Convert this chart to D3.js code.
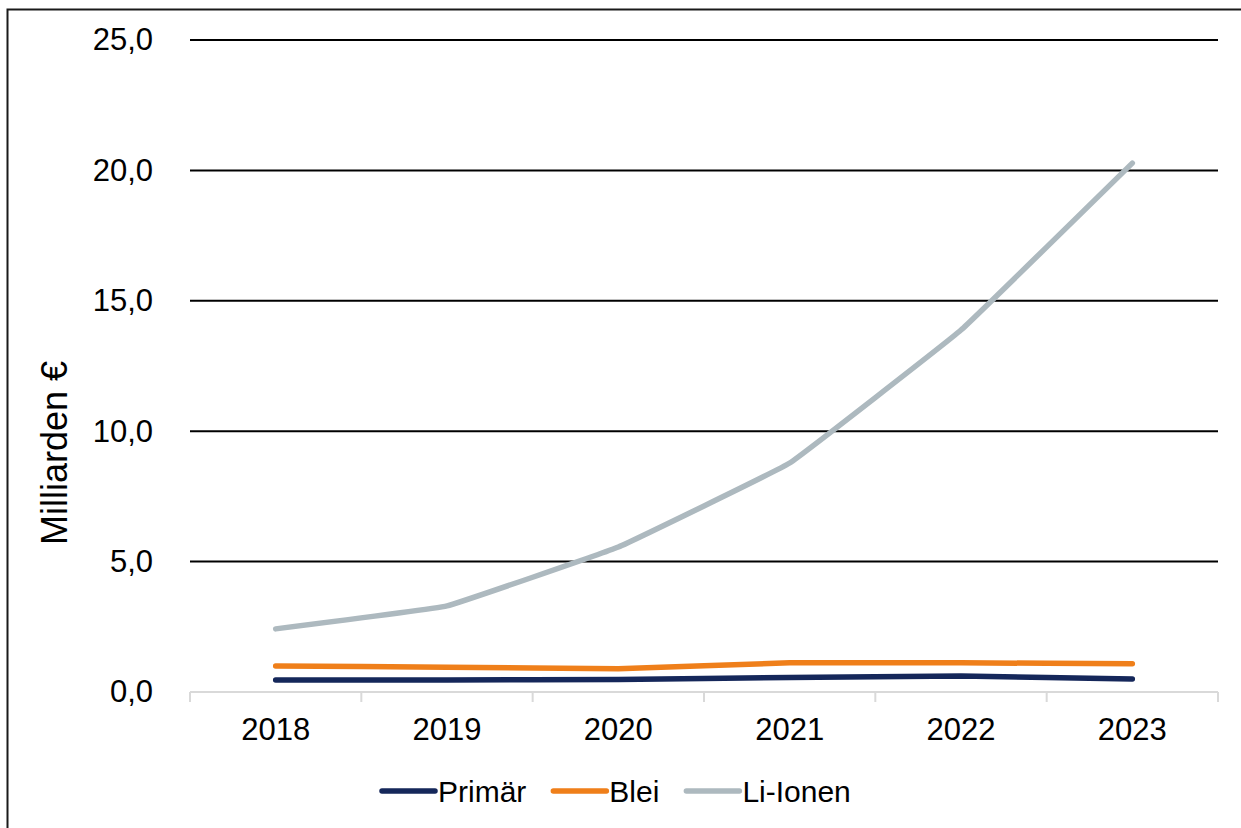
<html>
<head>
<script src="https://d3js.org/d3.v7.min.js"></script>
<style>
  body { margin: 0; background: #fff; }
  text { font-family: "Liberation Sans", Arial, sans-serif; }
</style>
</head>
<body>
<div id="chart"></div>
<script>
// data
const years = ["2018", "2019", "2020", "2021", "2022", "2023"];
const primaer = [0.46, 0.46, 0.48, 0.56, 0.61, 0.50];
const blei = [1.00, 0.95, 0.89, 1.12, 1.12, 1.08];
const liIonen = [2.42, 3.30, 5.56, 8.78, 13.88, 20.28];
const yTicks = [0, 5, 10, 15, 20, 25];
const seriesNames = ["Primär", "Blei", "Li-Ionen"];
const seriesColors = ["#15275a", "#ef7f1a", "#adb9bf"];

const series = [primaer, blei, liIonen].map((vals, i) => ({
  name: seriesNames[i], color: seriesColors[i], values: vals
}));

const W = 1241, H = 828;
const margin = { top: 40, right: 23, bottom: 136, left: 190 };
const width = W - margin.left - margin.right,
  height = H - margin.top - margin.bottom;

const svg = d3.select("#chart").append("svg")
  .attr("width", W).attr("height", H);

// outer frame (runs off the right and bottom edges)
svg.append("rect")
  .attr("x", 7.5).attr("y", 9.5)
  .attr("width", W + 10).attr("height", H + 10)
  .attr("fill", "none").attr("stroke", "#1a1a1a").attr("stroke-width", 2);

const g = svg.append("g")
  .attr("transform", "translate(" + margin.left + "," + margin.top + ")");

const x = d3.scaleBand().domain(years).range([0, width]);
const y = d3.scaleLinear().domain([0, 25]).range([height, 0]);

const fmt = v => d3.format(".1f")(v).replace(".", ",");

// gridlines
g.append("g")
  .selectAll("line")
  .data(yTicks.filter(d => d > 0))
  .enter().append("line")
  .attr("x1", 0).attr("x2", width)
  .attr("y1", d => y(d)).attr("y2", d => y(d))
  .attr("stroke", "#000").attr("stroke-width", 2);

// y axis labels
const yAxis = g.append("g")
  .call(d3.axisLeft(y).tickValues(yTicks).tickFormat(fmt).tickSize(0).tickPadding(37));
yAxis.select(".domain").remove();
yAxis.selectAll("text")
  .attr("font-size", "31px").attr("fill", "#000")
  .attr("font-family", "Liberation Sans, Arial, sans-serif");

// x axis with ticks at band boundaries
g.append("line")
  .attr("x1", 0).attr("x2", width)
  .attr("y1", height).attr("y2", height)
  .attr("stroke", "#d9d9d9").attr("stroke-width", 2);
const bounds = years.map(d => x(d)).concat([width]);
g.append("g").selectAll("line")
  .data(bounds)
  .enter().append("line")
  .attr("x1", d => d).attr("x2", d => d)
  .attr("y1", height).attr("y2", height + 10)
  .attr("stroke", "#d9d9d9").attr("stroke-width", 2);
g.append("g").selectAll("text")
  .data(years)
  .enter().append("text")
  .attr("x", d => x(d) + x.bandwidth() / 2)
  .attr("y", height + 48)
  .attr("text-anchor", "middle")
  .attr("font-size", "31px")
  .text(d => d);

// y axis title
svg.append("text")
  .attr("transform", "translate(67,453) rotate(-90)")
  .attr("text-anchor", "middle")
  .attr("font-size", "36px")
  .text("Milliarden €");

// lines, only lightly smoothed
const line = d3.line()
  .x((d, i) => x(years[i]) + x.bandwidth() / 2)
  .y(d => y(d))
  .curve(d3.curveCardinal.tension(0.8));

g.selectAll(".series")
  .data(series)
  .enter().append("path")
  .attr("class", "series")
  .attr("d", d => line(d.values))
  .attr("fill", "none")
  .attr("stroke", d => d.color)
  .attr("stroke-width", 5.5)
  .attr("stroke-linecap", "round")
  .attr("stroke-linejoin", "round");

// legend
const legend = svg.append("g").attr("transform", "translate(382,791)");
let lx = 0;
series.forEach(s => {
  legend.append("line")
    .attr("x1", lx).attr("x2", lx + 53)
    .attr("y1", 0).attr("y2", 0)
    .attr("stroke", s.color).attr("stroke-width", 5.5)
    .attr("stroke-linecap", "round");
  const t = legend.append("text")
    .attr("x", lx + 56).attr("y", 11)
    .attr("font-size", "30px")
    .text(s.name);
  lx += 56 + t.node().getComputedTextLength() + 27;
});
</script>
</body>
</html>
